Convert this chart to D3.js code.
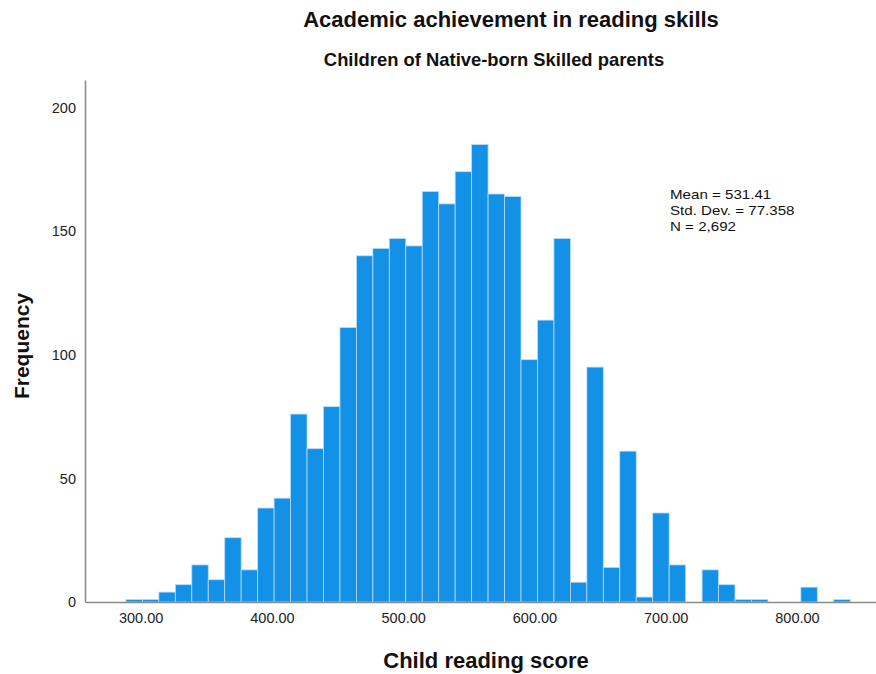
<!DOCTYPE html>
<html>
<head>
<meta charset="utf-8">
<script src="https://cdn.jsdelivr.net/npm/d3@7"></script>
<style>
  html, body { margin: 0; padding: 0; background: #fff; }
  svg { display: block; font-family: "Liberation Sans", Arial, sans-serif; }
</style>
</head>
<body>
<svg id="chart" width="876" height="674"></svg>
<script>
// Histogram of child reading scores (equal-width bins)
const binStart = 288.8;
const binWidth = 12.54;
const counts = [1, 1, 4, 7, 15, 9, 26, 13, 38, 42, 76, 62, 79, 111, 140, 143, 147, 144,
                166, 161, 174, 185, 165, 164, 98, 114, 147, 8, 95, 14, 61, 2, 36, 15, 0,
                13, 7, 1, 1, 0, 0, 6, 0, 1];
const xTicks = [300, 400, 500, 600, 700, 800];
const yTicks = [0, 50, 100, 150, 200];
const statLines = ["Mean = 531.41", "Std. Dev. = 77.358", "N = 2,692"];

const titleText = "Academic achievement in reading skills";
const subtitleText = "Children of Native-born Skilled parents";
const xLabel = "Child reading score";
const yLabel = "Frequency";

const bins = counts.map((c, i) => ({
  x0: binStart + i * binWidth,
  x1: binStart + (i + 1) * binWidth,
  count: c
}));

const svg = d3.select("#chart");

const plot = { left: 85, right: 876, top: 80, bottom: 602 };

const x = d3.scaleLinear().domain([257.6, 860.2]).range([plot.left, plot.right]);
const y = d3.scaleLinear().domain([0, 211.1]).range([plot.bottom, plot.top]);

// bars
svg.append("g")
  .selectAll("rect")
  .data(bins.filter(b => b.count > 0))
  .join("rect")
  .attr("x", d => x(d.x0))
  .attr("width", d => x(d.x1) - x(d.x0))
  .attr("y", d => y(d.count))
  .attr("height", d => y(0) - y(d.count))
  .attr("fill", "#1391e6")
  .attr("stroke", "#b9dcf7")
  .attr("stroke-width", 0.8);

// x axis
const xAxis = svg.append("g")
  .attr("transform", `translate(0,${plot.bottom})`)
  .call(d3.axisBottom(x).tickValues(xTicks).tickSize(0).tickPadding(11).tickFormat(d3.format(".2f")));
xAxis.select(".domain").attr("stroke", "#8a8a8a").attr("stroke-width", 1.6);
xAxis.selectAll("text").attr("font-size", 14.5).attr("fill", "#222").attr("font-family", "Liberation Sans, Arial, sans-serif");

// y axis
const yAxis = svg.append("g")
  .attr("transform", `translate(${plot.left},0)`)
  .call(d3.axisLeft(y).tickValues(yTicks).tickSize(0).tickPadding(9));
yAxis.select(".domain").attr("stroke", "#8a8a8a").attr("stroke-width", 1.6);
yAxis.selectAll("text").attr("font-size", 14.5).attr("fill", "#222").attr("font-family", "Liberation Sans, Arial, sans-serif");

// titles
svg.append("text")
  .attr("x", 511).attr("y", 27)
  .attr("text-anchor", "middle")
  .attr("font-size", 22)
  .attr("font-weight", "bold")
  .attr("fill", "#111")
  .text(titleText);

svg.append("text")
  .attr("x", 494).attr("y", 66)
  .attr("text-anchor", "middle")
  .attr("font-size", 18.4)
  .attr("font-weight", "bold")
  .attr("fill", "#111")
  .text(subtitleText);

svg.append("text")
  .attr("x", 486).attr("y", 668)
  .attr("text-anchor", "middle")
  .attr("font-size", 22)
  .attr("font-weight", "bold")
  .attr("fill", "#111")
  .text(xLabel);

svg.append("text")
  .attr("transform", "translate(29,346) rotate(-90)")
  .attr("text-anchor", "middle")
  .attr("font-size", 21)
  .attr("font-weight", "bold")
  .attr("fill", "#111")
  .text(yLabel);

// summary statistics (horizontally widened type)
svg.append("g")
  .attr("transform", "translate(670,0) scale(1.2,1)")
  .selectAll("text")
  .data(statLines)
  .join("text")
  .attr("x", 0)
  .attr("y", (d, i) => 199.5 + i * 16)
  .attr("font-size", 12.6)
  .attr("fill", "#111")
  .text(d => d);
</script>
</body>
</html>
